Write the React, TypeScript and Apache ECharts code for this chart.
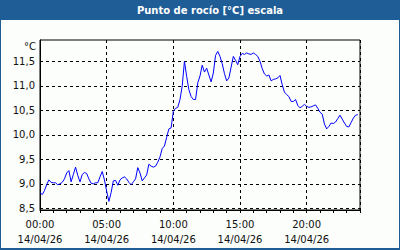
import { useEffect, useRef } from 'react';
import * as echarts from 'echarts';

const TITLE = 'Punto de rocío [°C] escala';
const DATE_LABEL = '14/04/26';
const UNIT = '°C';
const STEP_MINUTES = 10;

// Dew point (°C), one reading every 10 minutes from 00:00 to 23:50
const dewPoint: number[] = [
  8.82, 8.78, 8.86, 8.98, 9.08, 9.03, 9.02, 9.02, 8.98, 9.0,
  9.03, 9.1, 9.22, 9.27, 9.04, 9.19, 9.34, 9.17, 9.04, 9.19,
  9.23, 9.21, 9.1, 9.01, 9.0, 9.02, 9.02, 9.14, 9.25, 9.08,
  8.85, 8.64, 8.82, 9.06, 9.07, 8.97, 9.08, 9.12, 9.14, 9.1,
  9.03, 8.98, 9.04, 9.1, 9.33, 9.22, 9.06, 9.12, 9.18, 9.4,
  9.36, 9.34, 9.36, 9.44, 9.55, 9.72, 9.77, 9.95, 10.12, 10.14,
  10.48, 10.54, 10.56, 10.72, 11.0, 11.5, 11.19, 10.92, 10.78, 10.72,
  10.72, 11.06, 11.2, 11.42, 11.28, 11.36, 11.22, 11.08, 11.26, 11.62,
  11.7, 11.6, 11.45, 11.25, 11.1, 11.16, 11.38, 11.6, 11.52, 11.43,
  11.6, 11.66, 11.64, 11.67, 11.65, 11.64, 11.67, 11.64, 11.6, 11.5,
  11.35, 11.24, 11.2, 11.22, 11.1, 11.13, 11.14, 11.16, 11.21, 11.02,
  10.87, 10.82, 10.78, 10.68, 10.68, 10.72, 10.6, 10.55, 10.58, 10.62,
  10.58, 10.56, 10.57, 10.59, 10.61, 10.54, 10.46, 10.42, 10.22, 10.12,
  10.17, 10.24, 10.23, 10.26, 10.33, 10.4, 10.32, 10.24, 10.17, 10.16,
  10.25, 10.34, 10.4, 10.41,
];

const yTickValues = [8.5, 9.0, 9.5, 10.0, 10.5, 11.0, 11.5];
const Y_MIN = 8.465;
const Y_MAX = 11.934;
const X_MIN_HOURS = 0;
const X_MAX_HOURS = 24;
const X_LABEL_STEP = 5;

const FONT = '"DejaVu Sans", Verdana, sans-serif';

export default function App() {
  const ref = useRef<HTMLDivElement>(null);

  useEffect(() => {
    if (!ref.current) return;
    const chart = echarts.init(ref.current, null, { renderer: 'svg' });
    const seriesData = dewPoint.map((v, i) => [(i * STEP_MINUTES) / 60, v]);
    const pad = (n: number) => String(n).padStart(2, '0');

    chart.setOption({
      animation: false,
      backgroundColor: '#1e5d96',
      graphic: [
        {
          type: 'rect',
          z: -100,
          silent: true,
          shape: { x: 1, y: 20, width: 398, height: 228 },
          style: { fill: '#fbfefb' },
        },
        {
          type: 'text',
          x: 210,
          y: 10,
          silent: true,
          style: {
            text: TITLE,
            fill: '#ffffff',
            font: `bold 10px ${FONT}`,
            align: 'center',
            verticalAlign: 'middle',
          },
        },
      ],
      grid: {
        left: 40,
        right: 40,
        top: 40,
        bottom: 40,
        show: true,
        borderColor: '#000',
        borderWidth: 1,
        backgroundColor: 'transparent',
      },
      xAxis: [
        {
          type: 'value',
          min: X_MIN_HOURS,
          max: X_MAX_HOURS,
          interval: X_LABEL_STEP,
          axisLine: { show: true, lineStyle: { color: '#000', width: 1 } },
          axisTick: { show: false },
          splitLine: { show: true, lineStyle: { color: '#000', type: [3, 3], width: 1 } },
          axisLabel: {
            showMaxLabel: false,
            color: '#111',
            fontFamily: FONT,
            fontSize: 10,
            lineHeight: 15,
            margin: 7,
            formatter: (v: number) => `${pad(v)}:00\n${DATE_LABEL}`,
          },
        },
        {
          type: 'value',
          min: X_MIN_HOURS,
          max: X_MAX_HOURS,
          interval: 1,
          position: 'bottom',
          axisLine: { show: false },
          axisTick: { show: true, length: 3, lineStyle: { color: '#000', width: 1 } },
          axisLabel: { show: false },
          splitLine: { show: false },
        },
      ],
      yAxis: {
        type: 'value',
        min: Y_MIN,
        max: Y_MAX,
        name: UNIT,
        nameLocation: 'end',
        nameGap: -6,
        nameTextStyle: {
          color: '#111',
          fontFamily: FONT,
          fontSize: 10,
          align: 'right',
          verticalAlign: 'middle',
          padding: [0, 4, 0, 0],
        },
        axisLine: { show: true, lineStyle: { color: '#000', width: 1 } },
        axisTick: { show: false, customValues: yTickValues },
        splitLine: { show: true, lineStyle: { color: '#000', type: [3, 3], width: 1 } },
        axisLabel: {
          customValues: yTickValues,
          color: '#111',
          fontFamily: FONT,
          fontSize: 10,
          margin: 5,
          formatter: (v: number) => v.toFixed(1).replace('.', ','),
        },
      },
      series: [
        {
          type: 'line',
          xAxisIndex: 0,
          data: seriesData,
          showSymbol: false,
          symbol: 'none',
          lineStyle: { color: '#0000ff', width: 1 },
          clip: true,
        },
      ],
    });

    return () => chart.dispose();
  }, []);

  return (
    <div
      ref={ref}
      style={{ position: 'fixed', left: 0, top: 0, width: 400, height: 250 }}
    />
  );
}
